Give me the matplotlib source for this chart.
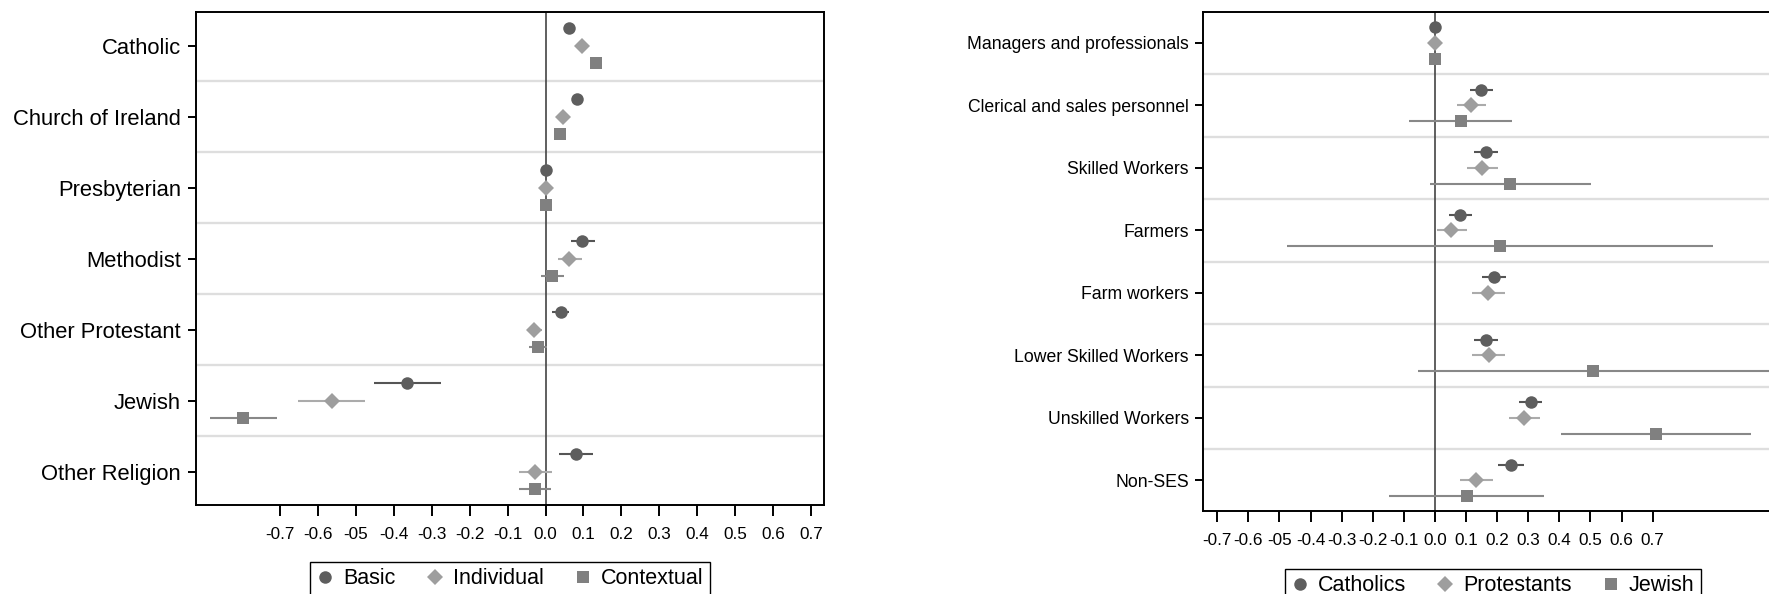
import numpy as np
import matplotlib.pyplot as plt

plt.rcParams['font.family'] = ['Liberation Sans', 'DejaVu Sans']

# left panel: religion coefficients (point estimate, lower and upper CI)
religions = ["Catholic", "Church of Ireland", "Presbyterian", "Methodist",
             "Other Protestant", "Jewish", "Other Religion"]
basic = [0.063, 0.083, 0.0, 0.097, 0.040, -0.366, 0.080]
basic_lo = [0.053, 0.073, 0.0, 0.066, 0.017, -0.453, 0.036]
basic_hi = [0.073, 0.093, 0.0, 0.130, 0.063, -0.277, 0.124]
individual = [0.096, 0.046, 0.0, 0.063, -0.030, -0.564, -0.029]
individual_lo = [0.086, 0.036, 0.0, 0.034, -0.050, -0.653, -0.071]
individual_hi = [0.106, 0.056, 0.0, 0.096, -0.009, -0.477, 0.017]
contextual = [0.134, 0.039, 0.0, 0.017, -0.020, -0.797, -0.029]
contextual_lo = [0.124, 0.029, 0.0, -0.013, -0.044, -0.884, -0.071]
contextual_hi = [0.144, 0.049, 0.0, 0.049, 0.003, -0.709, 0.014]

# right panel: occupational class by group
classes = ["Managers and professionals", "Clerical and sales personnel",
           "Skilled Workers", "Farmers", "Farm workers",
           "Lower Skilled Workers", "Unskilled Workers", "Non-SES"]
catholics = [0.0, 0.148, 0.165, 0.082, 0.189, 0.165, 0.308, 0.243]
catholics_lo = [0.0, 0.112, 0.126, 0.044, 0.151, 0.126, 0.270, 0.202]
catholics_hi = [0.0, 0.185, 0.204, 0.119, 0.228, 0.204, 0.345, 0.287]
protestants = [0.0, 0.116, 0.150, 0.051, 0.172, 0.173, 0.286, 0.133]
protestants_lo = [0.0, 0.070, 0.102, 0.005, 0.119, 0.119, 0.238, 0.082]
protestants_hi = [0.0, 0.163, 0.202, 0.102, 0.226, 0.226, 0.337, 0.187]
jewish = [0.0, 0.083, 0.241, 0.209, np.nan, 0.508, 0.711, 0.102]
jewish_lo = [0.0, -0.083, -0.015, -0.476, np.nan, -0.054, 0.405, -0.148]
jewish_hi = [0.0, 0.248, 0.502, 0.893, np.nan, 1.25, 1.017, 0.350]

xticks = [-0.7, -0.6, -0.5, -0.4, -0.3, -0.2, -0.1, 0.0,
          0.1, 0.2, 0.3, 0.4, 0.5, 0.6, 0.7]
xtick_labels = ["-0.7", "-0.6", "-05", "-0.4", "-0.3", "-0.2", "-0.1", "0.0",
                "0.1", "0.2", "0.3", "0.4", "0.5", "0.6", "0.7"]

styles = [("o", 9, "#5e5e5e", "#555555"),
          ("D", 8.5, "#9e9e9e", "#ababab"),
          ("s", 8.5, "#808080", "#888888")]


def draw_panel(ax, cats, series, labels, xlim, ylabel_size, ymargin):
    n = len(cats)
    ypos = np.arange(n)
    for i in range(n - 1):
        ax.axhline(i + 0.5, color="#dedede", lw=1.7, zorder=1)
    ax.axvline(0, color="#444444", lw=1.2, zorder=2)
    for k, (vals, lo, hi) in enumerate(series):
        marker, ms, mc, lc = styles[k]
        y = ypos + (k - 1) * 0.25
        ax.hlines(y, lo, hi, color=lc, lw=1.5, zorder=3)
        ax.plot(vals, y, linestyle="none", marker=marker, ms=ms,
                color=mc, markeredgewidth=0, zorder=4, label=labels[k])
    ax.set_xlim(*xlim)
    ax.set_ylim(n - 1 + ymargin, -ymargin)
    ax.set_yticks(ypos)
    ax.set_yticklabels(cats, fontsize=ylabel_size)
    ax.set_xticks(xticks)
    ax.set_xticklabels(xtick_labels, fontsize=12.3)
    ax.tick_params(axis="y", length=6, width=1.4, pad=4.5)
    ax.tick_params(axis="x", length=8, width=1.4, pad=8)
    for sp in ax.spines.values():
        sp.set_linewidth(1.4)


fig = plt.figure(figsize=(17.69, 5.94), dpi=100)

ax1 = fig.add_axes([0.1106, 0.1498, 0.3553, 0.8295])
draw_panel(ax1, religions,
           [(basic, basic_lo, basic_hi),
            (individual, individual_lo, individual_hi),
            (contextual, contextual_lo, contextual_hi)],
           ["Basic", "Individual", "Contextual"],
           (-0.923, 0.735), 15.8, 0.47)

ax2 = fig.add_axes([0.6802, 0.1397, 0.3277, 0.8396])
draw_panel(ax2, classes,
           [(catholics, catholics_lo, catholics_hi),
            (protestants, protestants_lo, protestants_hi),
            (jewish, jewish_lo, jewish_hi)],
           ["Catholics", "Protestants", "Jewish"],
           (-0.745, 1.119), 12.7, 0.49)

legend_kw = dict(loc="upper center", ncol=3, fontsize=15.5, frameon=True,
                 fancybox=False, edgecolor="black", framealpha=1,
                 handlelength=0.8, handletextpad=0.45, columnspacing=1.4,
                 borderpad=0.3, bbox_transform=fig.transFigure)
leg1 = ax1.legend(bbox_to_anchor=(0.2883, 0.0724), **legend_kw)
leg1.get_frame().set_linewidth(1.0)
leg2 = ax2.legend(bbox_to_anchor=(0.844, 0.0606), **legend_kw)
leg2.get_frame().set_linewidth(1.0)

fig.savefig("out.png", dpi=100)
